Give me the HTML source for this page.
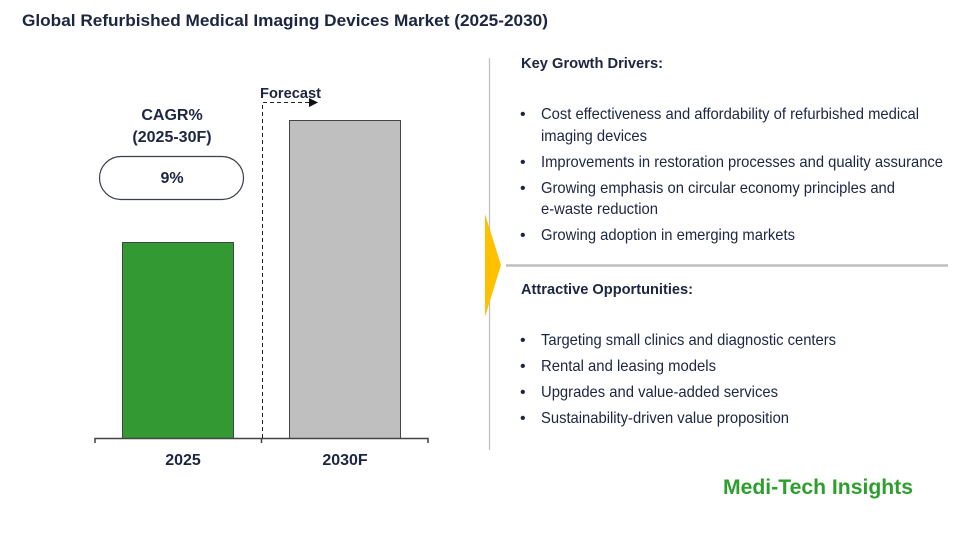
<!DOCTYPE html>
<html><head><meta charset="utf-8"><style>
html,body{margin:0;padding:0;background:#fff;}
svg{display:block;font-family:"Liberation Sans",Arial,sans-serif;}
</style></head><body>
<svg width="972" height="540" viewBox="0 0 972 540" xmlns="http://www.w3.org/2000/svg">
<text x="22" y="26" font-size="17" font-weight="bold" fill="#1c2541" textLength="526" lengthAdjust="spacingAndGlyphs">Global Refurbished Medical Imaging Devices Market (2025-2030)</text>

<!-- left chart -->
<text x="172" y="120" font-size="16" font-weight="bold" fill="#1c2541" text-anchor="middle">CAGR%</text>
<text x="172" y="142" font-size="16" font-weight="bold" fill="#1c2541" text-anchor="middle">(2025-30F)</text>
<rect x="99.5" y="156.5" width="144" height="43" rx="21.5" fill="#fff" stroke="#3a3f4e" stroke-width="1.2"/>
<text x="172" y="183" font-size="16" font-weight="bold" fill="#1c2541" text-anchor="middle">9%</text>

<rect x="122.5" y="242.5" width="111" height="196" fill="#339933" stroke="#444" stroke-width="1"/>
<rect x="289.5" y="120.5" width="111" height="318" fill="#bfbfbf" stroke="#444" stroke-width="1"/>
<path d="M95 443 V438.5 H428 V443 M261.5 438.5 V443" fill="none" stroke="#444" stroke-width="1.5"/>
<path d="M262.5 438 V102.5 H310" fill="none" stroke="#222" stroke-width="1" stroke-dasharray="4,3"/>
<polygon points="309,98 318,102.5 309,107" fill="#111"/>
<text x="260" y="98" font-size="15" font-weight="bold" fill="#1c2541" textLength="61" lengthAdjust="spacingAndGlyphs">Forecast</text>
<text x="183" y="465" font-size="16" font-weight="bold" fill="#1c2541" text-anchor="middle">2025</text>
<text x="345" y="465" font-size="16" font-weight="bold" fill="#1c2541" text-anchor="middle">2030F</text>

<!-- divider -->
<line x1="489.5" y1="58" x2="489.5" y2="450" stroke="#bfbfbf" stroke-width="1.2"/>
<polygon points="485,214 501,265 485,317" fill="#ffc000"/>
<line x1="506" y1="265.5" x2="948" y2="265.5" stroke="#bfbfbf" stroke-width="2.5"/>

<g fill="#1c2541">
<text x="521" y="68" font-size="15" font-weight="bold" textLength="142" lengthAdjust="spacingAndGlyphs">Key Growth Drivers:</text>
<g font-size="16">
<text x="520" y="119">•</text>
<text x="541" y="119" textLength="378" lengthAdjust="spacingAndGlyphs">Cost effectiveness and affordability of refurbished medical</text>
<text x="541" y="141" textLength="106" lengthAdjust="spacingAndGlyphs">imaging devices</text>
<text x="520" y="167">•</text>
<text x="541" y="167" textLength="402" lengthAdjust="spacingAndGlyphs">Improvements in restoration processes and quality assurance</text>
<text x="520" y="193">•</text>
<text x="541" y="193" textLength="354" lengthAdjust="spacingAndGlyphs">Growing emphasis on circular economy principles and</text>
<text x="541" y="214" textLength="117" lengthAdjust="spacingAndGlyphs">e-waste reduction</text>
<text x="520" y="240">•</text>
<text x="541" y="240" textLength="254" lengthAdjust="spacingAndGlyphs">Growing adoption in emerging markets</text>
</g>
<text x="521" y="294" font-size="15" font-weight="bold" textLength="172" lengthAdjust="spacingAndGlyphs">Attractive Opportunities:</text>
<g font-size="16">
<text x="520" y="345">•</text>
<text x="541" y="345" textLength="295" lengthAdjust="spacingAndGlyphs">Targeting small clinics and diagnostic centers</text>
<text x="520" y="371">•</text>
<text x="541" y="371" textLength="175" lengthAdjust="spacingAndGlyphs">Rental and leasing models</text>
<text x="520" y="397">•</text>
<text x="541" y="397" textLength="237" lengthAdjust="spacingAndGlyphs">Upgrades and value-added services</text>
<text x="520" y="423">•</text>
<text x="541" y="423" textLength="248" lengthAdjust="spacingAndGlyphs">Sustainability-driven value proposition</text>
</g>
</g>

<text x="723" y="494" font-size="21" font-weight="bold" fill="#2e9e2e" textLength="190" lengthAdjust="spacingAndGlyphs">Medi-Tech Insights</text>
</svg>
</body></html>
